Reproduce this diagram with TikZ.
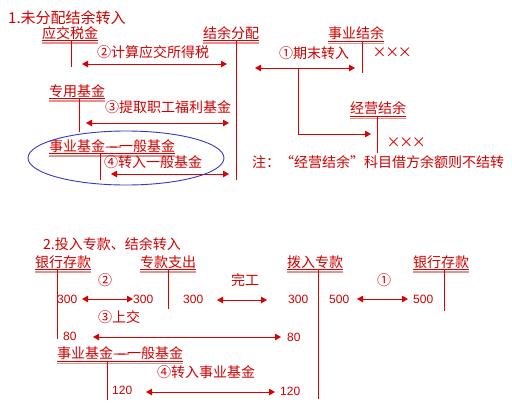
\documentclass[tikz,border=0pt]{standalone}
\usepackage{fontspec}
\setmainfont{Liberation Sans}
\newfontfamily\cjk{Noto Sans CJK SC}
\usetikzlibrary{arrows.meta,shapes.geometric}
\definecolor{txt}{HTML}{D00000}
\definecolor{ln}{HTML}{DD0000}
\definecolor{pk}{HTML}{E89090}
\definecolor{elc}{HTML}{3838C0}
\newcommand{\xxx}{\makebox[12.7pt]{×}\makebox[12.7pt]{×}\makebox[12.7pt]{×}}
\newcommand{\fdash}{\makebox[14pt][s]{—\hspace{-0.6em}—}}
\newcommand{\acctul}[1]{%
  \draw[draw=ln,line width=0.8pt] ([yshift=-0.9pt]#1.south west) -- ([yshift=-0.9pt]#1.south east);
  \draw[draw=pk,line width=1.6pt] ([yshift=-3.2pt]#1.south west) -- ([yshift=-3.2pt]#1.south east);}
\begin{document}
\begin{tikzpicture}[x=1pt,y=-1pt,
  lbl/.style={anchor=west,inner sep=0pt,text=txt,font=\cjk\fontsize{14}{14}\selectfont},
  ttl/.style={anchor=west,inner sep=0pt,text=txt,font=\cjk\fontsize{15}{15}\selectfont},
  num/.style={anchor=west,inner sep=0pt,text=txt,font=\fontsize{12}{12}\selectfont},
  vl/.style={draw=ln,line width=1pt},
  tip/.tip={Triangle[length=6pt,width=6.5pt]},
  dar/.style={draw=ln,line width=1pt,tip-tip},
  rar/.style={draw=ln,line width=1pt,-tip}]
\useasboundingbox (0,0) rectangle (512,416);

% ---------- section 1 ----------
\node[ttl] (t1) at (8,18) {1.未分配结余转入};

\node[lbl] (yjsj) at (42,33) {应交税金}; \acctul{yjsj}
\coordinate (v1a) at (71,41); \coordinate (v1b) at (71,67);
\draw[vl] (v1a) -- (v1b);

\node[lbl] (jyfp) at (203,33) {结余分配}; \acctul{jyfp}
\coordinate (v2a) at (236,41); \coordinate (v2b) at (236,180);
\draw[vl] (v2a) -- (v2b);

\node[lbl] (l2) at (97,52) {②计算应交所得税};
\coordinate (a2l) at (82,64); \coordinate (a2r) at (227,64);
\draw[dar] (a2l) -- (a2r);

\node[lbl] (zyjj) at (49,91) {专用基金}; \acctul{zyjj}
\coordinate (v3a) at (79,99); \coordinate (v3b) at (79,132);
\draw[vl] (v3a) -- (v3b);

\node[lbl] (l3) at (105,107.5) {③提取职工福利基金};
\coordinate (a3l) at (86,123); \coordinate (a3r) at (229,123);
\draw[dar] (a3l) -- (a3r);

\node[lbl] (syjj) at (49,146) {事业基金\fdash 一般基金}; \acctul{syjj}
\coordinate (v4a) at (100,154); \coordinate (v4b) at (100,180);
\draw[vl] (v4a) -- (v4b);

\node[lbl] (l4) at (104,162.5) {④转入一般基金};
\coordinate (a4l) at (111,174); \coordinate (a4r) at (229,174);
\draw[dar] (a4l) -- (a4r);

\node[draw=elc,line width=0.9pt,ellipse,minimum width=196pt,minimum height=54pt,inner sep=0pt] (oval) at (126,158) {};

\node[lbl] (syjy) at (328,33.5) {事业结余}; \acctul{syjy}
\coordinate (v5a) at (362,42); \coordinate (v5b) at (362,73);
\draw[vl] (v5a) -- (v5b);
\node[lbl] (x1) at (373,53) {\xxx};

\node[lbl] (l1) at (279,53) {①期末转入};
\coordinate (a1l) at (255,68); \coordinate (a1r) at (355,68);
\draw[dar] (a1l) -- (a1r);
\coordinate (b1) at (298,69); \coordinate (b2) at (371,134);
\draw[rar] (b1) |- (b2);

\node[lbl] (jyjy) at (350,108.5) {经营结余}; \acctul{jyjy}
\coordinate (v6a) at (377,117); \coordinate (v6b) at (377,153);
\draw[vl] (v6a) -- (v6b);
\node[lbl] (x2) at (387,143) {\xxx};

\node[lbl] (note) at (252,162) {注：“经营结余”科目借方余额则不结转};

% ---------- section 2 ----------
\node[lbl] (t2) at (43,244) {2.投入专款、结余转入};

\node[lbl] (yhck1) at (35,262) {银行存款}; \acctul{yhck1}
\coordinate (w1a) at (57,270); \coordinate (w1b) at (57,339);
\draw[vl] (w1a) -- (w1b);

\node[lbl] (zkzc) at (140,262) {专款支出}; \acctul{zkzc}
\coordinate (w2a) at (168,270); \coordinate (w2b) at (168,309);
\draw[vl] (w2a) -- (w2b);

\node[lbl] (c2) at (98,280) {②};
\node[num] (n300a) at (57,299) {300};
\coordinate (d2l) at (82,299); \coordinate (d2r) at (133,299);
\draw[dar] (d2l) -- (d2r);
\node[num] (n300b) at (133,299) {300};
\node[num] (n300c) at (183,299) {300};

\node[lbl] (wg) at (231,280) {完工};
\coordinate (dwl) at (217,300); \coordinate (dwr) at (267,300);
\draw[dar] (dwl) -- (dwr);

\node[lbl] (c3) at (98,317) {③上交};
\node[num] (n80a) at (63,336) {80};
\coordinate (d3l) at (93,337); \coordinate (d3r) at (281,337);
\draw[dar] (d3l) -- (d3r);
\node[num] (n80b) at (287,337) {80};

\node[lbl] (syjj2) at (57,353.5) {事业基金\fdash 一般基金}; \acctul{syjj2}
\coordinate (w3a) at (107,362); \coordinate (w3b) at (107,400);
\draw[vl] (w3a) -- (w3b);

\node[lbl] (c4) at (157,372) {④转入事业基金};
\node[num] (n120a) at (112,390) {120};
\coordinate (d4l) at (146,392); \coordinate (d4r) at (275,392);
\draw[dar] (d4l) -- (d4r);
\node[num] (n120b) at (280,391) {120};

\node[lbl] (brzk) at (287,262) {拨入专款}; \acctul{brzk}
\coordinate (w4a) at (318,270); \coordinate (w4b) at (318,399);
\draw[vl] (w4a) -- (w4b);
\node[num] (n300d) at (288,299) {300};
\node[num] (n500a) at (329,299) {500};

\node[lbl] (c1) at (377,280) {①};
\coordinate (d1l) at (357,299); \coordinate (d1r) at (408,299);
\draw[dar] (d1l) -- (d1r);
\node[num] (n500b) at (413,299) {500};

\node[lbl] (yhck2) at (413,262) {银行存款}; \acctul{yhck2}
\coordinate (w5a) at (444,270); \coordinate (w5b) at (444,311);
\draw[vl] (w5a) -- (w5b);
\end{tikzpicture}
\end{document}
